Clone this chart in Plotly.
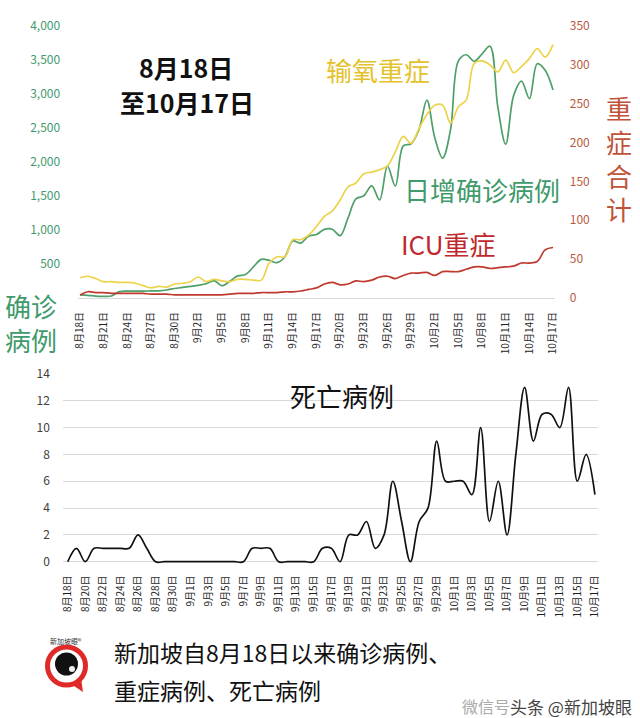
import datetime
import plotly.graph_objects as go

# ---------------- data ----------------
START = datetime.date(2021, 8, 18)
N_DAYS = 61
dates = []
for k in range(N_DAYS):
    d = START + datetime.timedelta(days=k)
    dates.append(f"{d.month}月{d.day}日")

# 日增确诊病例 (left axis)
daily_cases = [45, 40, 28, 25, 30, 93, 100, 100, 102, 104, 106, 118, 140, 155, 170,
               185, 210, 255, 180, 245, 325, 345, 457, 568, 555, 520, 607, 837, 807, 910,
               935, 1009, 1012, 917, 1178, 1457, 1504, 1650, 1443, 1939, 1647, 2236, 2268, 2478, 2909,
               2356, 2057, 2475, 3486, 3577, 3480, 3590, 3703, 2809, 2263, 2976, 3190, 2932, 3445, 3348,
               3058]

# 输氧重症 (right axis)
oxygen_cases = [26, 28, 25, 21, 21, 20, 20, 19, 16, 13, 15, 14, 18, 19, 21,
                27, 21, 24, 22, 21, 24, 24, 23, 23, 45, 53, 53, 75, 75, 81,
                92, 105, 112, 126, 143, 148, 160, 162, 165, 170, 188, 208, 199, 218, 236,
                248, 248, 225, 246, 255, 302, 305, 300, 291, 306, 290, 298, 308, 321, 310,
                326]

# ICU重症 (right axis)
icu_cases = [4, 8, 7, 7, 6, 6, 6, 6, 6, 5, 5, 5, 4, 4, 4,
             4, 4, 4, 4, 5, 6, 6, 6, 7, 7, 7, 8, 8, 9, 11,
             13, 18, 20, 17, 18, 22, 21, 23, 27, 28, 25, 29, 32, 32, 33,
             29, 34, 34, 34, 37, 40, 40, 38, 39, 40, 41, 45, 45, 47, 62,
             65]

# 死亡病例
deaths = [0, 1, 0, 1, 1, 1, 1, 1, 2, 1, 0, 0, 0, 0, 0,
          0, 0, 0, 0, 0, 0, 1, 1, 1, 0, 0, 0, 0, 0, 1,
          1, 0, 2, 2, 3, 1, 2, 6, 3, 0, 3, 4, 9, 6, 6,
          6, 5, 10, 3, 6, 2, 8, 13, 9, 11, 11, 10, 13, 6, 8,
          5]

top_ticks = dates[::3]
bottom_ticks = dates[::2]
left_ticks = [500, 1000, 1500, 2000, 2500, 3000, 3500, 4000]
right_ticks = [0, 50, 100, 150, 200, 250, 300, 350]
death_ticks = [0, 2, 4, 6, 8, 10, 12, 14]

# ---------------- style ----------------
W, H = 640, 718
FONT = "Noto Sans CJK SC"
GREEN_LINE = "#4f9f68"
GREEN_TXT = "#3f9a6c"
YELLOW_LINE = "#ecd34a"
YELLOW_TXT = "#e4c22c"
RED_LINE = "#c0392f"
RED_TXT = "#c0282d"
BROWN_TXT = "#b85a3c"
CLEAR = "rgba(0,0,0,0)"


def px(x):
    return x / W


def py(y):
    return 1 - y / H


fig = go.Figure()
fig.add_trace(go.Scatter(x=dates, y=daily_cases, xaxis="x", yaxis="y", mode="lines",
                         line=dict(color=GREEN_LINE, width=1.7, shape="spline", smoothing=1)))
fig.add_trace(go.Scatter(x=dates, y=oxygen_cases, xaxis="x", yaxis="y2", mode="lines",
                         line=dict(color=YELLOW_LINE, width=1.7, shape="spline", smoothing=1)))
fig.add_trace(go.Scatter(x=dates, y=icu_cases, xaxis="x", yaxis="y2", mode="lines",
                         line=dict(color=RED_LINE, width=1.7, shape="spline", smoothing=1)))
fig.add_trace(go.Scatter(x=dates, y=deaths, xaxis="x2", yaxis="y3", mode="lines",
                         line=dict(color="#111111", width=1.7, shape="spline", smoothing=1)))

annotations = [
    dict(text="<b>8月18日</b>", x=px(186), y=py(67), font=dict(size=25, color="#111")),
    dict(text="<b>至10月17日</b>", x=px(187), y=py(102), font=dict(size=25, color="#111")),
    dict(text="输氧重症", x=px(378), y=py(69), font=dict(size=26, color=YELLOW_TXT)),
    dict(text="日增确诊病例", x=px(482), y=py(189), font=dict(size=26, color=GREEN_TXT)),
    dict(text="ICU重症", x=px(448), y=py(244), font=dict(size=26, color=RED_TXT)),
    dict(text="重<br>症<br>合<br>计", x=px(619), y=py(158), font=dict(size=26, color="#c0533a")),
    dict(text="确诊<br>病例", x=px(31), y=py(322), font=dict(size=26, color=GREEN_TXT)),
    dict(text="死亡病例", x=px(342), y=py(395), font=dict(size=26, color="#111")),
    dict(text="新加坡自8月18日以来确诊病例、", x=px(112), y=py(652), xanchor="left",
         font=dict(size=23, color="#111")),
    dict(text="重症病例、死亡病例", x=px(112), y=py(690), xanchor="left",
         font=dict(size=23, color="#111")),
    dict(text="新加坡眼®", x=px(66), y=py(641), font=dict(size=7, color="#333")),
    dict(text="微信号", x=px(460), y=py(706), xanchor="left", font=dict(size=16, color="#aaaaaa")),
    dict(text="头条 @新加坡眼", x=px(508), y=py(706), xanchor="left", font=dict(size=17, color="#444")),
]
for a in annotations:
    a.setdefault("xanchor", "center")
    a["yanchor"] = "middle"
    a["xref"] = "paper"
    a["yref"] = "paper"
    a["showarrow"] = False


def circle(cx, cy, r, **kw):
    return dict(type="circle", xref="paper", yref="paper",
                x0=px(cx - r), x1=px(cx + r), y0=py(cy + r), y1=py(cy - r), **kw)


def path(points, **kw):
    s = "M " + " L ".join(f"{px(a):.5f},{py(b):.5f}" for a, b in points) + " Z"
    return dict(type="path", xref="paper", yref="paper", path=s, **kw)


shapes = [
    path([(71, 684), (83, 692), (81, 678)], fillcolor="#e02a2a", line=dict(width=0)),
    circle(66.5, 666, 19, fillcolor="white", line=dict(color="#e02a2a", width=5)),
    circle(66.5, 664, 11.5, fillcolor="#111111", line=dict(width=0)),
    circle(72, 669, 3, fillcolor="#eeeeee", line=dict(width=0)),
]

fig.update_layout(
    width=W, height=H,
    margin=dict(l=0, r=0, t=0, b=0, pad=0, autoexpand=False),
    paper_bgcolor="white", plot_bgcolor=CLEAR,
    showlegend=False,
    font=dict(family=FONT, color="#222"),
    annotations=annotations,
    shapes=shapes,
    xaxis=dict(domain=[px(77.6), px(555.4)], anchor="y", type="category", automargin=False,
               range=[-0.3, 60.3], tickmode="array", tickvals=top_ticks, ticktext=top_ticks,
               tickangle=-90, tickfont=dict(size=10, color="#1e1e1e"),
               showline=True, linecolor="#d9d9d9", linewidth=1, showgrid=False,
               ticks="outside", ticklen=9, tickcolor=CLEAR),
    yaxis=dict(domain=[py(298), py(26)], anchor="x", range=[0, 4000], automargin=False,
               tickmode="array", tickvals=left_ticks, tickformat=",",
               tickfont=dict(size=12, color=GREEN_TXT),
               showgrid=False, zeroline=False, showline=False,
               ticks="outside", ticklen=14, tickcolor=CLEAR),
    yaxis2=dict(overlaying="y", side="right", anchor="x", range=[0, 350], automargin=False,
                tickmode="array", tickvals=right_ticks,
                tickfont=dict(size=12, color=BROWN_TXT),
                showgrid=False, zeroline=False, showline=False,
                ticks="outside", ticklen=11, tickcolor=CLEAR),
    xaxis2=dict(domain=[px(63.3), px(598)], anchor="y3", type="category", automargin=False,
                range=[-0.5, 60.35], tickmode="array", tickvals=bottom_ticks, ticktext=bottom_ticks,
                tickangle=-90, tickfont=dict(size=10, color="#1e1e1e"),
                showline=False, showgrid=False,
                ticks="outside", ticklen=6, tickcolor=CLEAR),
    yaxis3=dict(domain=[py(564.4), py(374)], anchor="x2", range=[-0.2, 14], automargin=False,
                tickmode="array", tickvals=death_ticks,
                tickfont=dict(size=12, color="#404040"),
                showgrid=True, gridcolor="#d9d9d9", gridwidth=1,
                zeroline=False, showline=False,
                ticks="outside", ticklen=10, tickcolor=CLEAR),
)

fig.write_html("out.html", config={"displayModeBar": False},
               post_script="document.body.style.margin='0px';")
